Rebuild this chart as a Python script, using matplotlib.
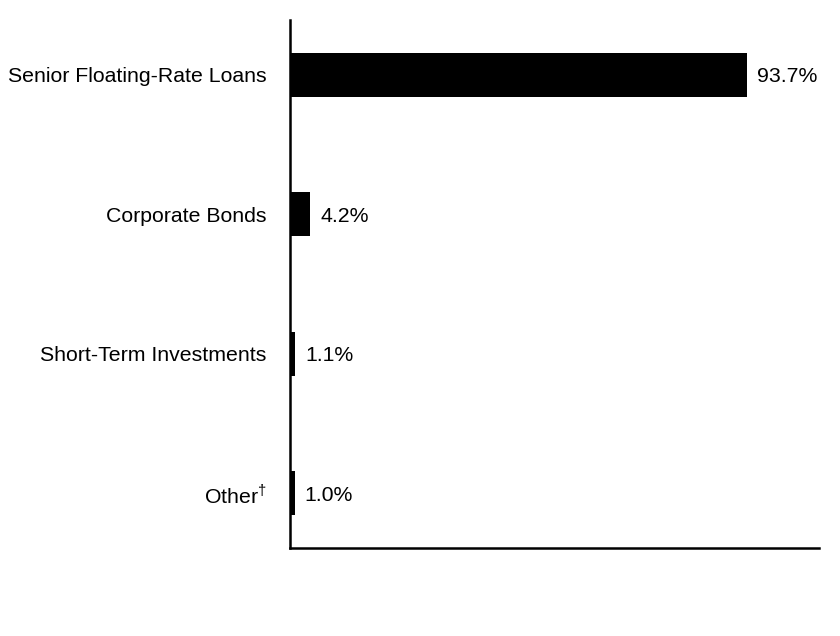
import matplotlib.pyplot as plt

categories = ["Senior Floating-Rate Loans", "Corporate Bonds",
              "Short-Term Investments", "Other$^{\\mathregular{\u2020}}$"]
values = [93.7, 4.2, 1.1, 1.0]
value_labels = ["93.7%", "4.2%", "1.1%", "1.0%"]

plt.rcParams["font.family"] = ["Liberation Sans", "DejaVu Sans"]
plt.rcParams["mathtext.fontset"] = "custom"
plt.rcParams["mathtext.rm"] = "Liberation Sans"

fig = plt.figure(figsize=(8.4, 6.36), dpi=100)
ax = fig.add_axes([290 / 840, 1 - 548 / 636, 529 / 840, 528 / 636])

pos = list(range(len(categories)))
ax.barh(pos, values, height=0.315, color="black")
for y, v, lab in zip(pos, values, value_labels):
    ax.text(v + 2.0, y, lab, va="center_baseline", ha="left", fontsize=15.3)

ax.set_xlim(0, 108.4)
ax.set_ylim(3.394, -0.394)
ax.set_yticks(pos)
ax.set_yticklabels(categories, fontsize=15.3, va="center_baseline")
ax.tick_params(axis="y", length=0, pad=17)
ax.set_xticks([])
for side in ("top", "right"):
    ax.spines[side].set_visible(False)
for side in ("left", "bottom"):
    ax.spines[side].set_linewidth(1.8)

fig.savefig("out.png", dpi=100)
